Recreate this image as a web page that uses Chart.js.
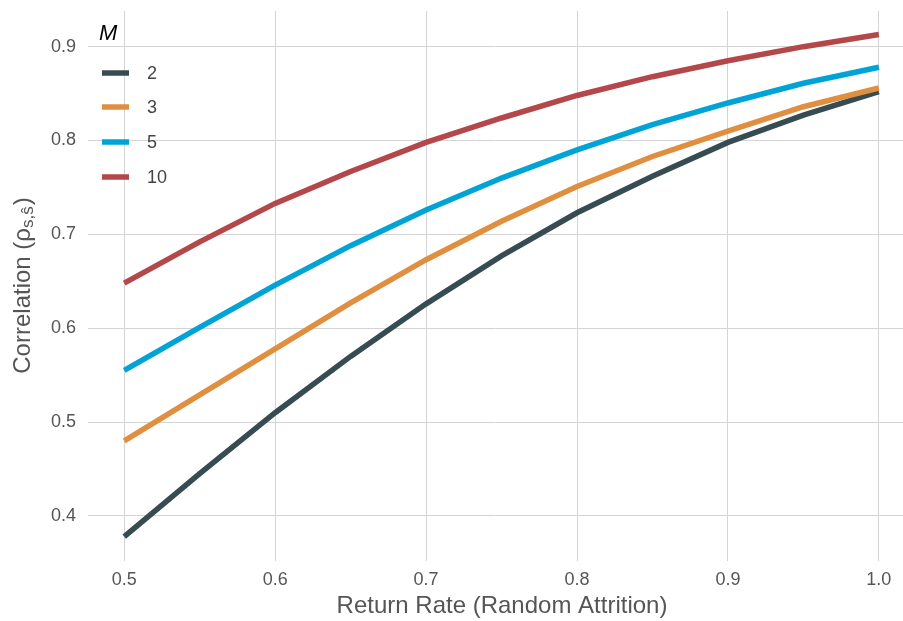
<!DOCTYPE html>
<html>
<head>
<meta charset="utf-8">
<script src="https://cdn.jsdelivr.net/npm/chart.js@4.4.0/dist/chart.umd.min.js"></script>
<style>
  html, body { margin: 0; padding: 0; background: #ffffff; }
  #wrap { width: 903px; height: 621px; position: relative; }
</style>
</head>
<body>
<div id="wrap"><canvas id="c" width="903" height="621"></canvas></div>
<script>
// ---- data ----
const returnRates = [0.5, 0.55, 0.6, 0.65, 0.7, 0.75, 0.8, 0.85, 0.9, 0.95, 1.0];
const seriesLabels = ['2', '3', '5', '10'];
const corrM2  = [0.378, 0.445, 0.510, 0.570, 0.626, 0.677, 0.723, 0.762, 0.798, 0.827, 0.852];
const corrM3  = [0.480, 0.529, 0.578, 0.627, 0.673, 0.714, 0.751, 0.783, 0.810, 0.836, 0.856];
const corrM5  = [0.555, 0.601, 0.646, 0.688, 0.726, 0.760, 0.790, 0.817, 0.840, 0.861, 0.878];
const corrM10 = [0.648, 0.692, 0.733, 0.767, 0.798, 0.824, 0.848, 0.868, 0.885, 0.900, 0.913];
const xTicks = [0.5, 0.6, 0.7, 0.8, 0.9, 1.0];
const yTicks = [0.4, 0.5, 0.6, 0.7, 0.8, 0.9];
const legendTitle = 'M';
const xTitle = 'Return Rate (Random Attrition)';
const yTitleMain = 'Correlation (\u03C1';
const yTitleSub = 's,\u015D';
const yTitleEnd = ')';

const colors = ['#374B53', '#E08F40', '#00A3D6', '#B4474A'];
const allSeries = [corrM2, corrM3, corrM5, corrM10];

const datasets = allSeries.map((s, i) => ({
  label: seriesLabels[i],
  data: s.map((v, j) => ({ x: returnRates[j], y: v })),
  borderColor: colors[i],
  backgroundColor: colors[i],
  borderWidth: 5.5,
  pointRadius: 0,
  tension: 0,
  fill: false,
  order: allSeries.length - i
}));

const FONT = "'Liberation Sans', Arial, sans-serif";

const customDraw = {
  id: 'customDraw',
  afterDraw(chart) {
    const ctx = chart.ctx;
    // x title
    ctx.save();
    ctx.fillStyle = '#555555';
    ctx.font = '24px ' + FONT;
    ctx.textAlign = 'center';
    ctx.textBaseline = 'middle';
    ctx.fillText(xTitle, 502, 606);
    ctx.restore();

    // y title
    ctx.save();
    ctx.translate(23, 286);
    ctx.rotate(-Math.PI / 2);
    ctx.fillStyle = '#555555';
    ctx.textBaseline = 'middle';
    ctx.font = '24px ' + FONT;
    const w1 = ctx.measureText(yTitleMain).width;
    ctx.font = '17px ' + FONT;
    const w2 = ctx.measureText(yTitleSub).width;
    ctx.font = '24px ' + FONT;
    const w3 = ctx.measureText(yTitleEnd).width;
    let x0 = -(w1 + w2 + w3) / 2;
    ctx.textAlign = 'left';
    ctx.fillText(yTitleMain, x0, 0);
    ctx.font = '17px ' + FONT;
    ctx.fillText(yTitleSub, x0 + w1, 5);
    ctx.font = '24px ' + FONT;
    ctx.fillText(yTitleEnd, x0 + w1 + w2 + 1, 0);
    ctx.restore();

    // legend
    ctx.save();
    ctx.fillStyle = '#000000';
    ctx.font = 'italic 22px ' + FONT;
    ctx.textAlign = 'left';
    ctx.textBaseline = 'middle';
    ctx.fillText(legendTitle, 99, 34);
    const rows = [73, 107, 142, 177];
    chart.data.datasets.forEach((ds, i) => {
      ctx.strokeStyle = ds.borderColor;
      ctx.lineWidth = 5.5;
      ctx.beginPath();
      ctx.moveTo(102, rows[i]);
      ctx.lineTo(129, rows[i]);
      ctx.stroke();
      ctx.fillStyle = '#444444';
      ctx.font = '18px ' + FONT;
      ctx.fillText(ds.label, 147, rows[i] + 1);
    });
    ctx.restore();
  }
};

new Chart(document.getElementById('c'), {
  type: 'line',
  data: { datasets },
  options: {
    responsive: false,
    animation: false,
    devicePixelRatio: 1,
    layout: { padding: { top: 11, right: 0, left: 0, bottom: 0 } },
    plugins: { legend: { display: false }, tooltip: { enabled: false } },
    scales: {
      x: {
        type: 'linear',
        min: 0.476,
        max: 1.016,
        border: { display: false },
        grid: { color: '#d4d4d4', lineWidth: 1, drawTicks: false },
        afterBuildTicks: (s) => { s.ticks = xTicks.map(v => ({ value: v })); },
        afterFit: (s) => { s.height = 60; s.paddingRight = 0; },
        ticks: {
          color: '#555555',
          font: { family: FONT, size: 18 },
          padding: 8,
          maxRotation: 0,
          callback: (v) => v.toFixed(1)
        },
        title: { display: false }
      },
      y: {
        type: 'linear',
        min: 0.352,
        max: 0.938,
        border: { display: false },
        grid: { color: '#d4d4d4', lineWidth: 1, drawTicks: false },
        afterBuildTicks: (s) => { s.ticks = yTicks.map(v => ({ value: v })); },
        afterFit: (s) => { s.width = 88; s.paddingTop = 0; s.paddingBottom = 0; },
        ticks: {
          color: '#555555',
          font: { family: FONT, size: 18 },
          padding: 12,
          callback: (v) => v.toFixed(1)
        }
      }
    }
  },
  plugins: [customDraw]
});
</script>
</body>
</html>
